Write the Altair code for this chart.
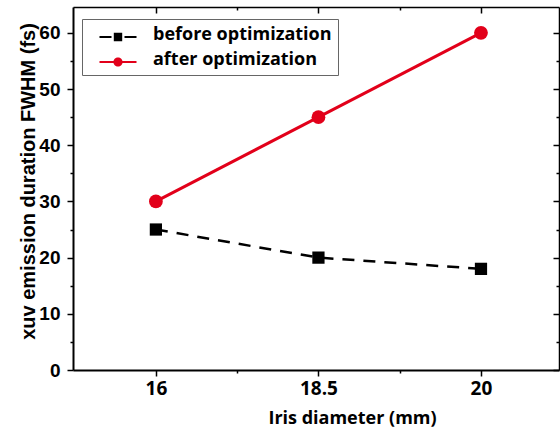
import altair as alt
import pandas as pd

diameters = ["16", "18.5", "20"]
before = [25, 20, 18]
after = [30, 45, 60]
series_names = ["before optimization", "after optimization"]

RED = "#e2001a"
W, H = 486, 363
XDOM = [-0.51, 2.48]
YDOM = [0, 64.6]

df = pd.DataFrame({
    "idx": list(range(len(diameters))) * 2,
    "value": before + after,
    "series": [series_names[0]] * len(before) + [series_names[1]] * len(after),
})

xs = alt.Scale(domain=XDOM, nice=False, zero=False)
ys = alt.Scale(domain=YDOM, nice=False, zero=True)

label_expr_x = "datum.value % 1 == 0 ? " + str(diameters) + "[datum.value] : ''"
x_tick = {"condition": {"test": "datum.value % 1 != 0", "value": 3}, "value": 6}
y_tick = {"condition": {"test": "datum.value % 10 != 0", "value": 3}, "value": 6}

ax_bottom = alt.Axis(orient="bottom", values=[0, 0.5, 1, 1.5, 2], labelExpr=label_expr_x,
                     tickSize=x_tick, title="Iris diameter (mm)", labelFont="Open Sans",
                     labelFontWeight="bold", labelFontSize=19, labelPadding=3,
                     titleFont="Open Sans", titleFontWeight="bold", titleFontSize=18,
                     titleX=279, titleY=48, titleAnchor="start", titleAlign="center",
                     titleBaseline="middle",
                     grid=False, domainWidth=2, domainColor="black",
                     tickColor="black", tickWidth=1.5, labelColor="black", titleColor="black")
ax_top = alt.Axis(orient="bottom", offset=-H, values=[0, 0.5, 1, 1.5, 2], labels=False,
                  tickSize=x_tick, title=None, grid=False, domainWidth=1.5, domainColor="black",
                  tickColor="black", tickWidth=1.5)
ax_left = alt.Axis(orient="left", values=list(range(0, 61, 5)),
                   labelExpr="datum.value % 10 == 0 ? datum.label : ''",
                   tickSize=y_tick, title="xuv emission duration FWHM (fs)",
                   labelFont="Liberation Sans", labelFontWeight="bold", labelFontSize=19,
                   labelPadding=7, titleFont="Liberation Sans", titleFontWeight="bold",
                   titleFontSize=20, titleX=-45, titleY=174, titleAngle=270,
                   titleAlign="center", titleBaseline="middle", titleAnchor="start",
                   grid=False, domainWidth=2,
                   domainColor="black", tickColor="black", tickWidth=1.5,
                   labelColor="black", titleColor="black")
ax_right = alt.Axis(orient="left", offset=-W, values=list(range(0, 61, 5)), labels=False,
                    tickSize=y_tick, title=None, grid=False, domainWidth=1.5,
                    domainColor="black", tickColor="black", tickWidth=1.5)

base = alt.Chart(df)

before_line = base.transform_filter(alt.datum.series == series_names[0]).mark_line(
    color="black", strokeWidth=2.5, strokeDash=[12, 9]
).encode(x=alt.X("idx:Q", scale=xs, axis=ax_bottom), y=alt.Y("value:Q", scale=ys, axis=ax_left))

before_pts = base.transform_filter(alt.datum.series == series_names[0]).mark_point(
    shape="square", filled=True, color="black", size=150, opacity=1
).encode(x=alt.X("idx:Q", scale=xs, axis=ax_top), y=alt.Y("value:Q", scale=ys, axis=ax_right))

after_line = base.transform_filter(alt.datum.series == series_names[1]).mark_line(
    color=RED, strokeWidth=3
).encode(x=alt.X("idx:Q", scale=xs, axis=None), y=alt.Y("value:Q", scale=ys, axis=None))

after_pts = base.transform_filter(alt.datum.series == series_names[1]).mark_point(
    shape="circle", filled=True, color=RED, size=190, opacity=1
).encode(x=alt.X("idx:Q", scale=xs, axis=None), y=alt.Y("value:Q", scale=ys, axis=None))

# legend symbols (unit = 10 px at symbolSize 400), shifted down slightly
sym_before = ("M-1.85,0.1H-0.65V0.3H-1.85Z M0.65,0.1H1.85V0.3H0.65Z "
              "M-0.42,-0.22H0.42V0.62H-0.42Z")
sym_after = ("M-1.85,0.1H-0.44V0.3H-1.85Z M0.44,0.1H1.85V0.3H0.44Z "
             "M-0.46,0.2A0.46,0.46 0 1,1 0.46,0.2A0.46,0.46 0 1,1 -0.46,0.2Z")

legend = alt.Legend(title=None, orient="none", legendX=9, legendY=12, padding=6,
                    strokeColor="#666666", fillColor="white", symbolSize=400,
                    symbolOffset=20, labelOffset=25, rowPadding=6,
                    labelFont="Open Sans", labelFontWeight="bold", labelFontSize=18,
                    labelColor="black", labelLimit=400, symbolStrokeWidth=0,
                    symbolOpacity=1,
                    labelExpr="datum.label + '\u00a0\u00a0\u00a0'")

legend_layer = base.transform_filter("false").mark_point(filled=True, opacity=1).encode(
    x=alt.X("idx:Q", scale=xs, axis=None),
    y=alt.Y("value:Q", scale=ys, axis=None),
    color=alt.Color("series:N", scale=alt.Scale(domain=series_names, range=["black", RED]),
                    legend=legend),
    shape=alt.Shape("series:N", scale=alt.Scale(domain=series_names, range=[sym_before, sym_after]),
                    legend=legend),
)

chart = alt.layer(before_line, after_line, before_pts, after_pts, legend_layer).resolve_axis(
    x="independent", y="independent"
).properties(
    width=W, height=H,
    autosize=alt.AutoSizeParams(type="none"),
    padding={"left": 73, "top": 7, "right": 1, "bottom": 64},
).configure_view(stroke=None).configure(background="white")

chart.save("out.html", embed_options={"renderer": "svg", "actions": False})
